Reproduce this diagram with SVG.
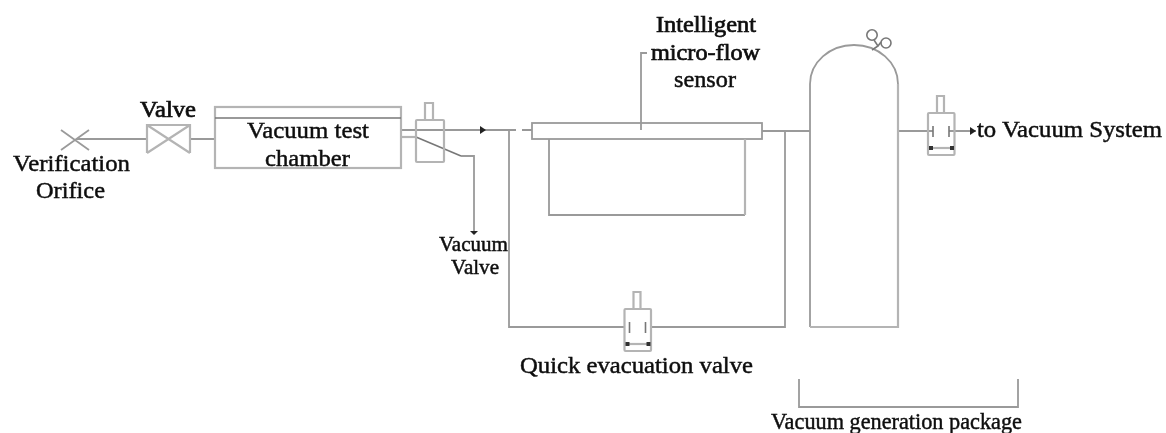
<svg xmlns="http://www.w3.org/2000/svg" width="1166" height="433" viewBox="0 0 1166 433">
<style>
.l{fill:none;stroke:#9a9a9a;stroke-width:1.8}
.d{fill:none;stroke:#777;stroke-width:1.6}
.p{fill:none;stroke:#b4b4b4;stroke-width:2.2}
text{font-family:"Liberation Serif","Times New Roman",serif;font-size:23px;fill:#0c0c0c;stroke:#0c0c0c;stroke-width:.45}
.s{font-size:20px}
.b{stroke-width:.7}
</style>
<defs>
<marker id="arr" markerWidth="7" markerHeight="8" refX="6" refY="4" orient="auto" markerUnits="userSpaceOnUse"><path d="M0 0L6 4L0 8Z" fill="#222"/></marker>
<g id="gate">
<path class="p" d="M9 17V0H16V17"/>
<rect class="p" x="0" y="17" width="26.500" height="42" rx="1"/>
<path class="d" d="M5 30V41M21 30V41"/>
<path class="p" d="M1 52H26"/>
<path d="M1 50h4v4h-4zM22 50h4v4h-4z" fill="#333"/>
</g>
<filter id="soft" x="-2%" y="-2%" width="104%" height="104%"><feGaussianBlur stdDeviation="0.55"/></filter>
</defs>
<g filter="url(#soft)">
<g id="connectors">
<path class="l" d="M76 139H147M190 139H215"/>
<path class="d" d="M401 130H486" marker-end="url(#arr)"/>
<path class="d" d="M486 130H516M522 130H532"/>
<path class="p" d="M401 137H416"/>
<path class="d" d="M416 137L461 156"/>
<path class="l" d="M461 156H474V232"/>
<path d="M470 231h8l-4 4z" fill="#222"/>
<path class="l" d="M509 130V327H624M651 327H785V131"/>
<path class="l" d="M762 131H810"/>
<path class="l" d="M898 131H933M949 131H976" marker-end="url(#arr)"/>
<path class="l" d="M647 53H641V130"/>
</g>
<g id="verification-orifice">
<path class="l" d="M61 130L89 150M89 130L61 150" stroke-width="1.300"/>
<text x="13" y="171" textLength="117" lengthAdjust="spacingAndGlyphs">Verification</text>
<text x="36" y="198" textLength="69" lengthAdjust="spacingAndGlyphs">Orifice</text>
</g>
<g id="valve">
<path class="p" d="M147 153V125H190V153M147 125L190 153M190 125L147 153"/>
<text x="140" y="117" class="b" textLength="56" lengthAdjust="spacingAndGlyphs">Valve</text>
</g>
<g id="vacuum-test-chamber">
<rect class="p" x="215" y="107" width="186" height="61"/>
<path class="d" d="M215 118H401"/>
<text x="247" y="138" textLength="122" lengthAdjust="spacingAndGlyphs">Vacuum test</text>
<text x="265" y="166" textLength="85" lengthAdjust="spacingAndGlyphs">chamber</text>
</g>
<g id="vacuum-valve">
<path class="p" d="M425 120V103H433V120"/>
<rect class="p" x="416" y="120" width="28" height="42" rx="1"/>
<text x="439" y="251" class="s" textLength="69" lengthAdjust="spacingAndGlyphs">Vacuum</text>
<text x="451" y="274" class="s" textLength="48" lengthAdjust="spacingAndGlyphs">Valve</text>
</g>
<g id="micro-flow-sensor">
<rect class="l" x="532" y="123" width="230" height="16"/>
<path class="l" d="M549 139V215H745"/>
<path class="p" d="M745 139V215"/>
<text x="656" y="32" class="b" textLength="100" lengthAdjust="spacingAndGlyphs">Intelligent</text>
<text x="651" y="60" class="b" textLength="109" lengthAdjust="spacingAndGlyphs">micro-flow</text>
<text x="674" y="87" textLength="62" lengthAdjust="spacingAndGlyphs">sensor</text>
</g>
<g id="vacuum-generation-package">
<path class="l" d="M810 327V84A44 39 0 0 1 898 84"/>
<path class="p" d="M898 84V327H810"/>
<circle class="d" cx="872" cy="35" r="5.200" stroke-width="1.200"/>
<circle class="d" cx="886" cy="43" r="5" stroke-width="1.200"/>
<path class="d" d="M874 40L878 46L872 50M881 42L878 46"/>
<path class="l" d="M799 379V407H1018V379"/>
<text x="771" y="429" textLength="251" lengthAdjust="spacingAndGlyphs">Vacuum generation package</text>
</g>
<g id="quick-evacuation-valve">
<use href="#gate" x="624.500" y="292"/>
<text x="520" y="373" textLength="233" lengthAdjust="spacingAndGlyphs">Quick evacuation valve</text>
</g>
<g id="exhaust-valve">
<use href="#gate" x="928" y="96"/>
<text x="977" y="137" textLength="185" lengthAdjust="spacingAndGlyphs">to Vacuum System</text>
</g>
</g>
</svg>
